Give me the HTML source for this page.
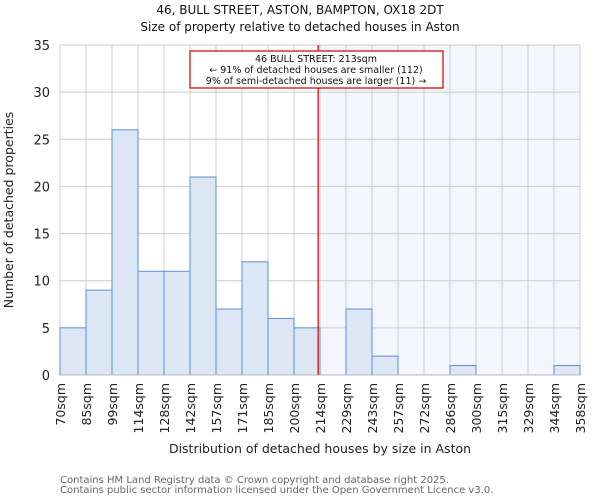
<!DOCTYPE html>
<html><head><meta charset="utf-8"><style>
body{margin:0;background:#fff;font-family:"DejaVu Sans","Liberation Sans",sans-serif}
text{font-family:"DejaVu Sans","Liberation Sans",sans-serif}
</style></head><body>
<svg id="c" width="600" height="500"></svg>
<script>
const labels=["70sqm","85sqm","99sqm","114sqm","128sqm","142sqm","157sqm","171sqm","185sqm","200sqm","214sqm","229sqm","243sqm","257sqm","272sqm","286sqm","300sqm","315sqm","329sqm","344sqm","358sqm"];
const counts=[5,9,26,11,11,21,7,12,6,5,0,7,2,0,0,1,0,0,0,1];
const yTicks=[0,5,10,15,20,25,30,35];
const marker=213;
const L=60,R=580,T=45,B=375,yMax=35;
const svg=document.getElementById('c');
const NS='http://www.w3.org/2000/svg';
const bw=(R-L)/counts.length;
const X=i=>L+i*bw, Y=v=>B-(v/yMax)*(B-T);
function mk(t,a,p){const e=document.createElementNS(NS,t);for(const k in a)e.setAttribute(k,a[k]);(p||svg).appendChild(e);return e;}
const edges=labels.map(s=>parseFloat(s));
let mx=R;for(let i=0;i<edges.length-1;i++){if(marker>=edges[i]&&marker<=edges[i+1]){mx=X(i)+bw*(marker-edges[i])/(edges[i+1]-edges[i]);break;}}
let sh=mk('rect',{x:mx,y:T,width:R-mx,height:B-T,fill:'#f3f6fd'});


for(let i=0;i<=counts.length;i++){let g=mk('line',{x1:X(i),x2:X(i),y1:T,y2:B,stroke:'#cccccc','stroke-width':1});}
yTicks.forEach(v=>{let g=mk('line',{x1:L,x2:R,y1:Y(v),y2:Y(v),stroke:'#cccccc','stroke-width':1});
let t=mk('text',{x:L-10,y:Y(v)+5,'text-anchor':'end','font-size':13,fill:'#222'});t.textContent=v;});
counts.forEach((v,i)=>{if(v<=0)return;let r=mk('rect',{x:X(i),y:Y(v),width:bw,height:B-Y(v),fill:'#dde6f4',stroke:'#5b8fd6','stroke-width':1});});
labels.forEach((s,i)=>{let t=mk('text',{transform:`translate(${X(i)+5},383) rotate(-90)`,'text-anchor':'end','font-size':12.5,fill:'#222'});t.textContent=s;});
let ax=mk('line',{x1:L,x2:R,y1:B,y2:B,stroke:'#bbbbbb'});
let ml=mk('line',{x1:mx,x2:mx,y1:T,y2:B,stroke:'#cc0000','stroke-width':1.2});
let g=mk('g',{});
mk('rect',{x:190,y:51,width:253,height:37,fill:'#fff',stroke:'#cc0000','stroke-width':1.2},g);
["46 BULL STREET: 213sqm","← 91% of detached houses are smaller (112)","9% of semi-detached houses are larger (11) →"].forEach((s,i)=>{let t=mk('text',{x:316,y:62+i*11,'text-anchor':'middle','font-size':9.5,fill:'#111'},g);t.textContent=s;});
function txt(s,a,n){let t=mk('text',a);t.textContent=s;}
txt("46, BULL STREET, ASTON, BAMPTON, OX18 2DT",{x:300,y:14,'text-anchor':'middle','font-size':12,fill:'#111'},'chart-title');
txt("Size of property relative to detached houses in Aston",{x:300,y:31,'text-anchor':'middle','font-size':12,fill:'#111'},'chart-subtitle');
txt("Distribution of detached houses by size in Aston",{x:320,y:453,'text-anchor':'middle','font-size':12.5,fill:'#222'},'x-axis-title');
txt("Number of detached properties",{transform:'translate(13,210) rotate(-90)','text-anchor':'middle','font-size':12.5,fill:'#222'},'y-axis-title');
txt("Contains HM Land Registry data © Crown copyright and database right 2025.",{x:60,y:483,'font-size':10,fill:'#666'},'footer-line-1');
txt("Contains public sector information licensed under the Open Government Licence v3.0.",{x:60,y:493,'font-size':10,fill:'#666'},'footer-line-2');
</script>
</body></html>
